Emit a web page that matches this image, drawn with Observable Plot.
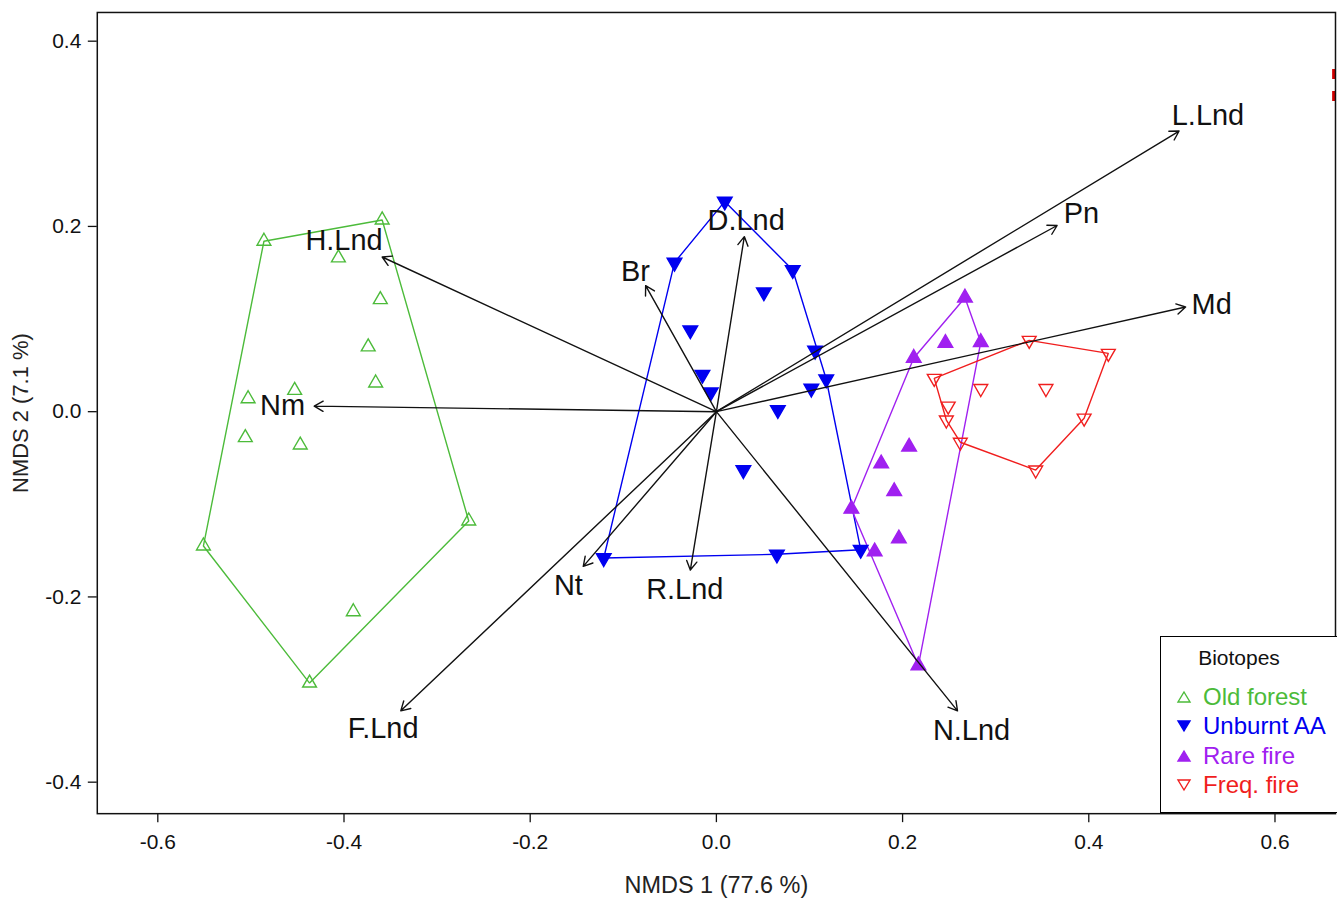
<!DOCTYPE html>
<html><head><meta charset="utf-8">
<script src="https://cdn.jsdelivr.net/npm/d3@7"></script>
<script src="https://cdn.jsdelivr.net/npm/@observablehq/plot@0.6"></script>
<style>
html,body{margin:0;padding:0;overflow:hidden;background:#fff;}
#wrap{position:relative;width:1337px;height:902px;overflow:hidden;}
#legend{position:absolute;left:1160px;top:636px;width:220px;height:177px;border:1.5px solid #000;background:#fff;box-sizing:border-box;font-family:"Liberation Sans",Arial,sans-serif;}
#legend .title{position:absolute;left:0;width:156px;text-align:center;top:9px;font-size:21px;color:#111;}
#legend .row{position:absolute;left:15px;height:26px;display:flex;align-items:center;font-size:24px;white-space:nowrap;}
#legend .row svg{margin-right:11px;}
</style>
</head><body>
<div id="wrap"><div id="chart"></div><div id="legend"></div></div>
<script>
// ---- data ----
const groups = ["Old forest", "Unburnt AA", "Rare fire", "Freq. fire"];
const groupColors = ["#4cbb3a", "#0000f0", "#a020f0", "#f01e1e"];

const oldForest = [
  [-0.486, 0.184], [-0.359, 0.207], [-0.406, 0.166], [-0.361, 0.121], [-0.374, 0.070],
  [-0.366, 0.031], [-0.503, 0.014], [-0.453, 0.023], [-0.506, -0.028], [-0.447, -0.036],
  [-0.551, -0.145], [-0.266, -0.118], [-0.390, -0.216], [-0.437, -0.293]
];
const unburntAA = [
  [0.009, 0.227], [-0.045, 0.161], [0.082, 0.153], [0.051, 0.129], [-0.028, 0.088],
  [0.106, 0.066], [0.118, 0.035], [-0.015, 0.040], [-0.006, 0.021], [0.102, 0.025],
  [0.066, 0.002], [0.029, -0.063], [-0.121, -0.158], [0.065, -0.154], [0.155, -0.149]
];
const rareFire = [
  [0.267, 0.123], [0.246, 0.074], [0.284, 0.075], [0.212, 0.058], [0.207, -0.038],
  [0.177, -0.056], [0.191, -0.086], [0.145, -0.105], [0.196, -0.137], [0.170, -0.151],
  [0.217, -0.274]
];
const freqFire = [
  [0.336, 0.077], [0.421, 0.063], [0.234, 0.036], [0.284, 0.025], [0.354, 0.025],
  [0.249, 0.006], [0.247, -0.009], [0.395, -0.007], [0.262, -0.033], [0.343, -0.063]
];

const vectorNames = ["L.Lnd", "Pn", "Md", "D.Lnd", "Br", "H.Lnd", "Nm", "Nt", "R.Lnd", "F.Lnd", "N.Lnd"];
const vectorX = [0.497, 0.366, 0.504, 0.030, -0.076, -0.359, -0.432, -0.143, -0.028, -0.339, 0.259];
const vectorY = [0.303, 0.201, 0.113, 0.189, 0.136, 0.167, 0.006, -0.167, -0.171, -0.323, -0.323];
const labelX = [0.528, 0.392, 0.532, 0.032, -0.087, -0.400, -0.466, -0.159, -0.034, -0.358, 0.274];
const labelY = [0.319, 0.214, 0.115, 0.206, 0.151, 0.185, 0.006, -0.188, -0.192, -0.342, -0.344];

const xTicks = [-0.6, -0.4, -0.2, 0.0, 0.2, 0.4, 0.6];
const yTicks = [-0.4, -0.2, 0.0, 0.2, 0.4];
const xTitle = "NMDS 1 (77.6 %)";
const yTitle = "NMDS 2 (7.1 %)";
const legendTitle = "Biotopes";
const cornerMark = [{x: 0.663, y1: 0.335, y2: 0.372}];

// ---- build tables ----
const groupPoints = [oldForest, unburntAA, rareFire, freqFire];
const sites = groupPoints.flatMap((pts, i) => pts.map(([x, y]) => ({x, y, g: groups[i]})));
const vectors = vectorNames.map((name, i) => ({name, x: vectorX[i], y: vectorY[i], lx: labelX[i], ly: labelY[i]}));

const triUp = {draw(ctx, size) { const r = Math.sqrt(size / Math.PI); const h = r * 0.866;
  ctx.moveTo(0, -r); ctx.lineTo(h, r / 2); ctx.lineTo(-h, r / 2); ctx.closePath(); }};
const triDown = {draw(ctx, size) { const r = Math.sqrt(size / Math.PI); const h = r * 0.866;
  ctx.moveTo(0, r); ctx.lineTo(h, -r / 2); ctx.lineTo(-h, -r / 2); ctx.closePath(); }};
const groupSymbols = [triUp, triDown, triUp, triDown];
const groupFilled = [false, true, true, false];

const font = '"Liberation Sans", Arial, sans-serif';
const fmt = d => d.toFixed(1);

const dotMarks = groups.map((g, i) => Plot.dot(sites.filter(d => d.g === g), {
  x: "x", y: "y", symbol: groupSymbols[i], r: groupFilled[i] ? 8.5 : 8,
  fill: groupFilled[i] ? groupColors[i] : "none", stroke: groupColors[i], strokeWidth: 1.4
}));

const chart = Plot.plot({
  width: 1340, height: 902,
  marginLeft: 97, marginRight: 2, marginTop: 12, marginBottom: 87,
  style: {fontFamily: font, background: "white", color: "#111", overflow: "visible"},
  x: {domain: [-0.665, 0.665]},
  y: {domain: [-0.434, 0.431]},
  color: {domain: groups, range: groupColors},
  marks: [
    Plot.axisX({ticks: xTicks, tickFormat: fmt, tickSize: 9, tickPadding: 11, fontSize: 21, label: null, strokeWidth: 1.3}),
    Plot.axisY({ticks: yTicks, tickFormat: fmt, tickSize: 9, tickPadding: 7, fontSize: 21, label: null, strokeWidth: 1.3}),
    Plot.text([xTitle], {text: d => d, frameAnchor: "bottom", lineAnchor: "middle", dy: 72, fontSize: 23.5, fill: "#222"}),
    Plot.text([yTitle], {text: d => d, frameAnchor: "left", textAnchor: "middle", rotate: -90, dx: -76, fontSize: 22, fill: "#222"}),
    Plot.hull(sites, {x: "x", y: "y", z: "g", stroke: "g", strokeWidth: 1.4, fill: "none"}),
    ...dotMarks,
    Plot.arrow(vectors, {x1: d => 0, y1: d => 0, x2: "x", y2: "y", stroke: "#111", strokeWidth: 1.4, headLength: 11}),
    Plot.text(vectors, {x: "lx", y: "ly", text: "name", fontSize: 29, fill: "#111"}),
    Plot.ruleX(cornerMark, {x: "x", y1: "y1", y2: "y2", stroke: "#d00000", strokeWidth: 3, strokeDasharray: "10,12"}),
    Plot.frame({stroke: "#111", strokeWidth: 1.5})
  ]
});
document.getElementById("chart").appendChild(chart);

// ---- legend (overlay, bottom-right inside the frame) ----
const legend = document.getElementById("legend");
const t = document.createElement("div");
t.className = "title"; t.textContent = legendTitle; legend.appendChild(t);
groups.forEach((g, i) => {
  const row = document.createElement("div");
  row.className = "row";
  row.style.top = (47 + i * 29.3) + "px";
  row.style.color = groupColors[i];
  const up = groupSymbols[i] === triUp;
  const pts = up ? "7,2 13,12 1,12" : "7,12 13,2 1,2";
  row.innerHTML = `<svg width="16" height="16" viewBox="-1 -1 16 16"><polygon points="${pts}" fill="${groupFilled[i] ? groupColors[i] : "none"}" stroke="${groupColors[i]}" stroke-width="1.4"/></svg>`;
  const span = document.createElement("span");
  span.textContent = g;
  row.appendChild(span);
  legend.appendChild(row);
});
</script>
</body></html>
